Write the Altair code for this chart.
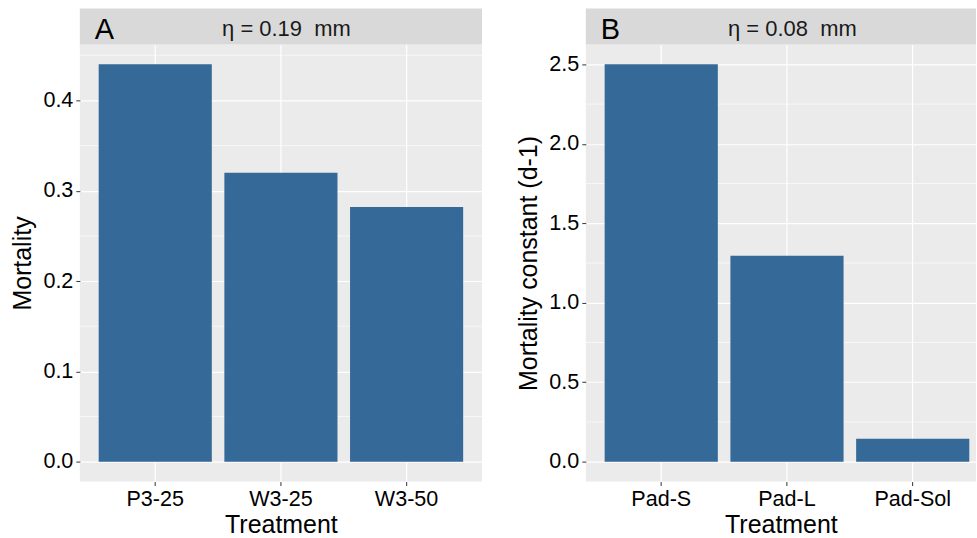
import altair as alt
import pandas as pd

# ---- data ----
treat_a = ["P3-25", "W3-25", "W3-50"]
mort_a = [0.44, 0.32, 0.282]
treat_b = ["Pad-S", "Pad-L", "Pad-Sol"]
mort_b = [2.5, 1.295, 0.145]

tags = ["A", "B"]
strip_labels = ["η = 0.19\u00a0\u00a0mm", "η = 0.08\u00a0\u00a0mm"]
ytitles = ["Mortality", "Mortality constant (d-1)"]
xtitle = "Treatment"

ticks_a = [0.0, 0.1, 0.2, 0.3, 0.4]
minor_a = [0.05, 0.15, 0.25, 0.35, 0.45]
ticks_b = [0.0, 0.5, 1.0, 1.5, 2.0, 2.5]
minor_b = [0.25, 0.75, 1.25, 1.75, 2.25]

BAR = "#346998"
FONT = "Liberation Sans"
H = 438
STRIP = 36


def panel(treats, vals, domain, ticks, minor, ytitle, tag, strip, width, xscale):
    df = pd.DataFrame({"Treatment": treats, "v": vals})
    mdf = pd.DataFrame({"v": minor})
    sdf = pd.DataFrame({"tag": [tag], "lab": [strip]})
    yscale = alt.Scale(domain=domain, nice=False, zero=False)
    yaxis = alt.Axis(title=ytitle, values=ticks, format=".1f")

    minor_rules = alt.Chart(mdf).mark_rule(color="white", strokeWidth=0.6).encode(
        y=alt.Y("v:Q", scale=yscale, axis=yaxis)
    )
    bars = alt.Chart(df).mark_bar(color=BAR).encode(
        x=alt.X("Treatment:N", sort=treats, scale=xscale,
                axis=alt.Axis(title=xtitle, labelAngle=0, bandPosition=0.5)),
        y=alt.Y("v:Q", scale=yscale, axis=yaxis),
        y2=alt.datum(0),
    )
    strip_rect = alt.Chart(sdf).mark_rect(color="#D9D9D9").encode(
        x=alt.value(0), x2=alt.value(width), y=alt.value(-STRIP), y2=alt.value(0)
    )
    strip_tag = alt.Chart(sdf).mark_text(
        font=FONT, fontSize=29, align="left", baseline="alphabetic", color="black"
    ).encode(x=alt.value(15), y=alt.value(-5), text="tag:N")
    strip_txt = alt.Chart(sdf).mark_text(
        font=FONT, fontSize=22, align="center", baseline="alphabetic", color="#1A1A1A"
    ).encode(x=alt.value(207), y=alt.value(-8), text="lab:N")
    return alt.layer(minor_rules, bars, strip_rect, strip_tag, strip_txt).properties(
        width=width, height=H
    )


pa = panel(treat_a, mort_a, [-0.022, 0.462], ticks_a, minor_a, ytitles[0], tags[0],
           strip_labels[0], 403,
           alt.Scale(paddingInner=0.1, paddingOuter=0.15))
pb = panel(treat_b, mort_b, [-0.125, 2.625], ticks_b, minor_b, ytitles[1], tags[1],
           strip_labels[1], 391,
           alt.Scale(paddingInner=0.1, paddingOuter=0.1016, align=0.738))

chart = alt.hconcat(pa, pb, spacing=104, bounds="flush").properties(
    padding={"left": 10, "top": 8, "right": 0, "bottom": 0}
).configure(font=FONT).configure_view(
    fill="#EBEBEB", strokeWidth=0
).configure_axis(
    domain=False,
    grid=True,
    gridColor="white",
    gridWidth=1.2,
    tickColor="#333333",
    tickSize=4,
    tickWidth=1,
    labelFont=FONT,
    labelFontSize=21.6,
    labelColor="black",
    titleFont=FONT,
    titleFontSize=25,
    titleFontWeight="normal",
    titleColor="black",
    labelPadding=3,
).configure_axisY(titlePadding=7).configure_axisX(titlePadding=2)

chart.save("out.html", embed_options={"renderer": "svg", "actions": False})
